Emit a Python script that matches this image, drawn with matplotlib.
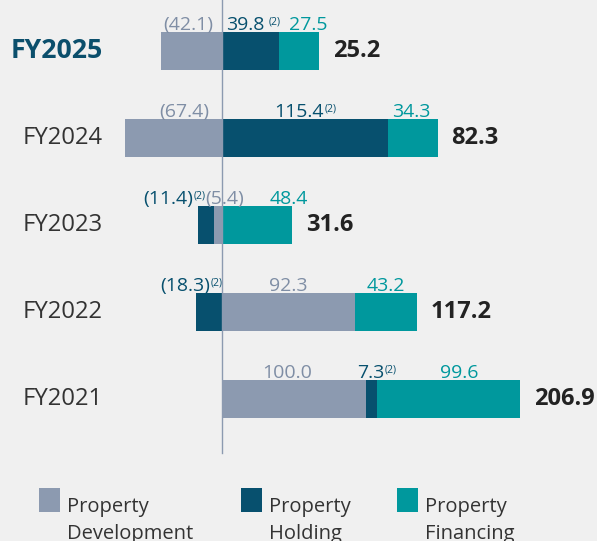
import numpy as np
import matplotlib.pyplot as plt

# data
years = ['FY2025', 'FY2024', 'FY2023', 'FY2022', 'FY2021']
dev = [-42.1, -67.4, -5.4, 92.3, 100.0]
hold = [39.8, 115.4, -11.4, -18.3, 7.3]
fin = [27.5, 34.3, 48.4, 43.2, 99.6]
total = [25.2, 82.3, 31.6, 117.2, 206.9]
hold_note = [True, True, True, True, True]

c_dev = '#8C9AB0'
c_hold = '#07506E'
c_fin = '#00989D'
t_dev = '#7F8EA5'
bg = '#F0F0F0'

plt.rcParams['font.family'] = ['Open Sans', 'DejaVu Sans']

fig = plt.figure(figsize=(5.97, 5.41), dpi=100, facecolor=bg)
ax = fig.add_axes([0, 0, 1, 1])
ax.set_facecolor(bg)
ax.set_xlim(-154.2, 260.4)
ax.set_ylim(5.632, -0.586)
ax.axis('off')

y = np.arange(len(years))
h = 0.437

# label nudges in pixels (layout only)
nudge = {
    ('dev', 0): -3, ('hold', 0): -5, ('fin', 0): 9,
    ('dev', 1): 11, ('hold', 1): -6, ('fin', 1): -2,
    ('hold', 2): -38, ('dev', 2): 6, ('fin', 2): 32,
    ('hold', 3): -24, ('dev', 3): 0, ('fin', 3): 0,
    ('dev', 4): -7, ('hold', 4): -1, ('fin', 4): 11,
}

for i in range(len(years)):
    pos, neg = 0.0, 0.0
    order = [('dev', dev[i], c_dev, t_dev), ('hold', hold[i], c_hold, c_hold), ('fin', fin[i], c_fin, c_fin)]
    segs = []
    # negatives stack leftwards: development next to the baseline
    for name, v, c, tc in order:
        if v >= 0:
            continue
        ax.barh(y[i], v, left=neg, height=h, color=c, linewidth=0)
        segs.append((name, neg + v / 2, v, tc))
        neg += v
    for name, v, c, tc in order:
        if v < 0:
            continue
        ax.barh(y[i], v, left=pos, height=h, color=c, linewidth=0)
        segs.append((name, pos + v / 2, v, tc))
        pos += v

    for name, xc, v, tc in segs:
        s = f'({abs(v):.1f})' if v < 0 else f'{v:.1f}'
        note = name == 'hold' and hold_note[i]
        dx = nudge.get((name, i), 0) * 0.72
        t = ax.annotate(s, (xc, y[i] - h / 2), xytext=(dx, 1.5), textcoords='offset points',
                        ha='center', va='baseline', fontsize=14, color=tc)
        if note:
            gap = 3 if i == 0 else 0.5
            ax.annotate('(2)', xy=(1, 0.95), xycoords=t, xytext=(gap, 0),
                        textcoords='offset points', ha='left', va='top',
                        fontsize=7.5, color=tc)

    ax.annotate(f'{total[i]:.1f}', (pos, y[i]), xytext=(10, 0), textcoords='offset points',
                ha='left', va='center', fontsize=17, fontweight='bold', color='#222222')

    if i == 0:
        ax.text(-83, y[i], years[i], ha='right', va='center', fontsize=19.2,
                fontweight='bold', color='#0B4F6C')
    else:
        ax.text(-83, y[i], years[i], ha='right', va='center', fontsize=17.2,
                color='#333333')

ax.plot([0, 0], [-0.586, 4.62], color=c_dev, linewidth=1, zorder=5)

# legend
names = ['Property\nDevelopment', 'Property\nHolding', 'Property\nFinancing']
cols = [c_dev, c_hold, c_fin]
lx = [39, 241, 397]
for name, c, x0 in zip(names, cols, lx):
    fig.patches.append(plt.Rectangle((x0 / 597, 1 - 512 / 541), 21 / 597, 24 / 541,
                                     transform=fig.transFigure, color=c, linewidth=0))
    fig.text((x0 + 28) / 597, 1 - 497 / 541, name, ha='left', va='top', fontsize=14.5,
             color='#333333', linespacing=1.45)

fig.savefig('out.png', dpi=100, facecolor=bg)
